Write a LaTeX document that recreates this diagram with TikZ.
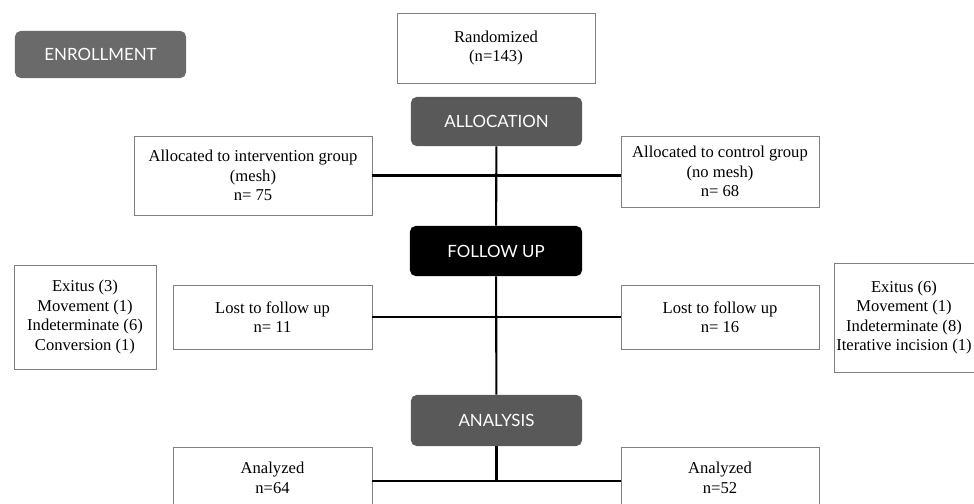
\documentclass[tikz,border=0pt]{standalone}
\usepackage{fontspec}
\setmainfont{Liberation Serif}
\newfontfamily\phasefont{Lato}
\definecolor{phasegrey}{HTML}{595959}
\definecolor{enrollgrey}{HTML}{6A6A6A}
\begin{document}
\begin{tikzpicture}[x=0.025cm,y=-0.025cm,
		box/.style={draw=gray,line width=0.6pt,align=center,inner sep=0pt,font=\fontsize{11.8}{13.8}\selectfont},
		phase/.style={rounded corners=4pt,text=white,align=center,inner sep=0pt,font=\phasefont\fontsize{12}{14}\selectfont,minimum width=4.275cm},
		link/.style={line width=1.5pt}]
		\clip (0,0) rectangle (974,504);
		\fill[color=white] (0,0) rectangle (974,504);
		% phases
		\node[phase,fill=enrollgrey,minimum height=1.175cm] (enroll) at (100.5,54.5) {ENROLLMENT};
		\node[phase,fill=phasegrey,minimum height=1.225cm] (alloc) at (496.5,121.5) {ALLOCATION};
		\node[phase,fill=black,minimum width=4.3cm,minimum height=1.25cm] (follow) at (496,251) {FOLLOW UP};
		\node[phase,fill=phasegrey,minimum height=1.275cm] (analysis) at (496.5,420.5) {ANALYSIS};
		% boxes
		\node[box,minimum width=4.95cm,minimum height=1.75cm] (rand) at (496,48) {Randomized\\(n=143)};
		\node[box,minimum width=5.95cm,minimum height=1.975cm] (mesh) at (253,175.5) {Allocated to intervention group\\(mesh)\\n= 75};
		\node[box,minimum width=4.95cm,minimum height=1.775cm] (nomesh) at (720,171.5) {Allocated to control group\\(no mesh)\\n= 68};
		\node[box,minimum width=4.975cm,minimum height=1.6cm] (lostmesh) at (272.5,317) {Lost to follow up\\n= 11};
		\node[box,minimum width=4.95cm,minimum height=1.6cm] (lostnomesh) at (720,317) {Lost to follow up\\n= 16};
		\node[box,minimum width=3.55cm,minimum height=2.6cm] (whymesh) at (85,317) {Exitus (3)\\Movement (1)\\Indeterminate (6)\\Conversion (1)};
		\node[box,minimum width=3.5cm,minimum height=2.725cm] (whynomesh) at (904,317.5) {Exitus (6)\\Movement (1)\\Indeterminate (8)\\Iterative incision (1)};
		\node[box,minimum width=4.975cm,minimum height=1.55cm] (anmesh) at (272.5,478) {Analyzed\\n=64};
		\node[box,minimum width=4.95cm,minimum height=1.55cm] (annomesh) at (720,478) {Analyzed\\n=52};
		% links
		\draw[link] (alloc) -- (follow);
		\draw[link] (follow) -- (analysis);
		\draw[link] (mesh.east) -- (mesh.east -| nomesh.west);
		\draw[link] (lostmesh.east) -- (lostmesh.east -| lostnomesh.west);
		\coordinate (split) at (analysis.south |- 0,481);
		\draw[link] (analysis.south) -- (split);
		\draw[link] (split -| anmesh.east) -- (split -| annomesh.west);
	\end{tikzpicture}
\end{document}
